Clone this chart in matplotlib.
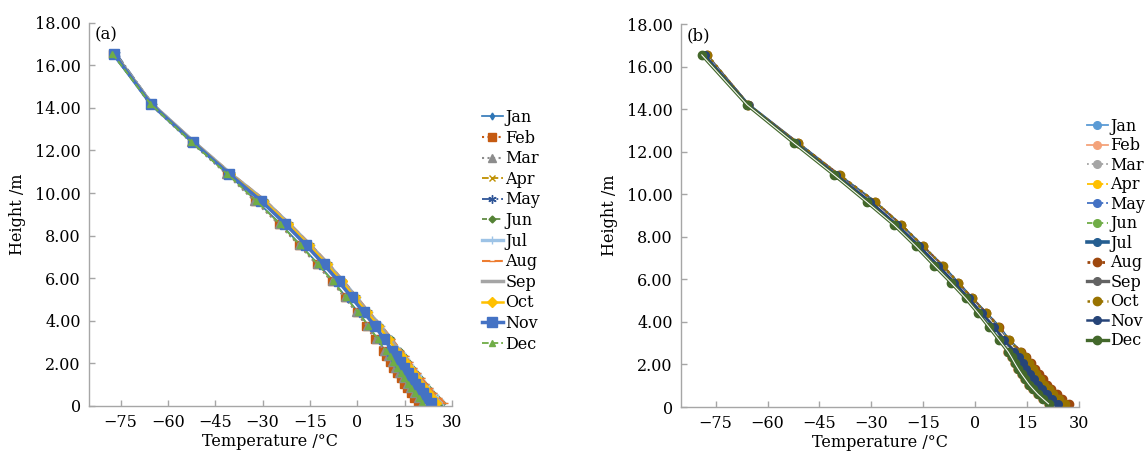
import numpy as np
import matplotlib
matplotlib.use("Agg")
import matplotlib.pyplot as plt

plt.rcParams['font.family'] = ['DejaVu Serif']
plt.rcParams['axes.unicode_minus'] = True

# pressure-level heights (km), top to bottom
heights = [16.55, 14.2, 12.4, 10.9, 9.65, 8.55, 7.55, 6.65, 5.85, 5.1, 4.4, 3.78,
           3.15, 2.6, 2.33, 2.07, 1.8, 1.55, 1.3, 1.05, 0.83, 0.6, 0.38, 0.15]

months = ['Jan', 'Feb', 'Mar', 'Apr', 'May', 'Jun',
          'Jul', 'Aug', 'Sep', 'Oct', 'Nov', 'Dec']

# monthly mean temperature profiles, site (a)
temp_a = {
    'Jan': [-77.8, -65.3, -52.3, -41.0, -32.1, -24.3, -17.9, -12.3, -7.5, -3.5, 0.3, 3.5, 6.3, 8.8, 10.0, 11.1, 12.3, 13.5, 14.6, 15.7, 16.8, 18.0, 19.1, 20.3],
    'Feb': [-77.5, -65.5, -52.5, -41.3, -32.5, -24.8, -18.4, -12.8, -8.0, -4.0, -0.2, 2.9, 5.5, 8.0, 9.1, 10.3, 11.4, 12.6, 13.7, 14.8, 15.9, 17.0, 18.0, 19.1],
    'Mar': [-77.2, -65.8, -52.8, -41.5, -32.7, -24.9, -18.4, -12.9, -8.1, -4.0, -0.3, 3.0, 5.9, 8.5, 9.7, 10.9, 12.1, 13.3, 14.4, 15.6, 16.7, 17.9, 19.2, 20.5],
    'Apr': [-76.6, -65.2, -52.0, -40.5, -30.8, -23.0, -16.4, -10.8, -6.0, -1.9, 1.9, 5.4, 8.5, 11.2, 12.5, 13.7, 14.9, 16.1, 17.3, 18.5, 19.6, 20.8, 22.1, 23.4],
    'May': [-76.3, -65.0, -51.8, -40.1, -29.5, -21.7, -15.0, -9.4, -4.7, -0.5, 3.3, 7.0, 10.2, 12.9, 14.2, 15.5, 16.8, 18.0, 19.2, 20.4, 21.5, 22.8, 24.1, 25.6],
    'Jun': [-76.8, -64.8, -51.6, -39.9, -29.4, -21.6, -14.9, -9.2, -4.5, -0.3, 3.5, 7.3, 10.6, 13.4, 14.8, 16.1, 17.4, 18.7, 19.9, 21.1, 22.3, 23.6, 25.1, 26.8],
    'Jul': [-77.3, -65.1, -51.7, -40.0, -29.3, -21.5, -14.8, -9.1, -4.4, -0.2, 3.6, 7.4, 10.7, 13.6, 15.0, 16.3, 17.6, 18.9, 20.1, 21.4, 22.6, 23.9, 25.5, 27.2],
    'Aug': [-77.1, -65.0, -51.6, -39.8, -29.1, -21.3, -14.6, -8.9, -4.2, 0.0, 3.8, 7.6, 11.0, 13.9, 15.3, 16.6, 17.9, 19.2, 20.5, 21.8, 23.0, 24.4, 26.0, 27.7],
    'Sep': [-76.9, -65.2, -51.8, -40.2, -29.5, -21.7, -15.0, -9.3, -4.6, -0.4, 3.4, 7.2, 10.5, 13.3, 14.6, 15.9, 17.2, 18.5, 19.7, 20.9, 22.1, 23.4, 24.9, 26.4],
    'Oct': [-77.0, -65.5, -52.0, -40.3, -29.8, -22.0, -15.3, -9.7, -5.0, -0.8, 3.0, 6.6, 9.8, 12.4, 13.7, 15.0, 16.3, 17.5, 18.7, 19.9, 21.0, 22.3, 23.6, 25.0],
    'Nov': [-77.2, -65.5, -52.2, -40.6, -30.6, -22.8, -16.2, -10.6, -5.9, -1.8, 2.0, 5.5, 8.5, 11.1, 12.3, 13.6, 14.8, 16.0, 17.2, 18.4, 19.5, 20.7, 21.9, 23.2],
    'Dec': [-77.6, -65.6, -52.6, -41.2, -32.2, -24.5, -18.1, -12.5, -7.7, -3.6, 0.2, 3.5, 6.4, 9.0, 10.2, 11.4, 12.6, 13.8, 14.9, 16.0, 17.1, 18.3, 19.4, 20.6],
}

# monthly mean temperature profiles, site (b)
temp_b = {
    'Jan': [-78.6, -65.9, -52.1, -40.3, -30.9, -22.9, -16.6, -11.3, -6.5, -2.2, 1.4, 4.4, 7.2, 9.9, 11.0, 12.0, 13.0, 14.0, 15.1, 16.2, 17.4, 18.7, 20.1, 21.6],
    'Feb': [-78.8, -65.8, -52.0, -40.4, -31.2, -23.2, -16.9, -11.6, -6.8, -2.5, 0.9, 3.9, 6.8, 9.3, 10.3, 11.2, 12.1, 13.1, 14.2, 15.3, 16.5, 17.8, 19.3, 20.9],
    'Mar': [-78.4, -65.7, -52.2, -40.6, -31.2, -22.8, -16.5, -11.2, -6.4, -2.1, 1.5, 4.6, 7.6, 10.4, 11.6, 12.6, 13.6, 14.6, 15.7, 16.8, 18.0, 19.3, 20.8, 22.4],
    'Apr': [-77.9, -65.6, -51.8, -40.0, -30.2, -22.4, -16.0, -10.6, -6.0, -1.7, 2.1, 5.5, 8.4, 11.4, 12.7, 13.9, 15.0, 16.0, 17.1, 18.3, 19.5, 20.9, 22.5, 24.2],
    'May': [-77.5, -65.4, -51.6, -39.8, -29.8, -22.1, -15.7, -10.2, -5.6, -1.4, 2.6, 6.0, 9.0, 12.2, 13.6, 14.9, 16.0, 17.1, 18.2, 19.4, 20.7, 22.1, 23.8, 25.6],
    'Jun': [-77.8, -65.5, -51.5, -39.7, -29.6, -21.9, -15.6, -10.0, -5.5, -1.3, 2.8, 6.3, 9.2, 12.5, 13.9, 15.2, 16.4, 17.5, 18.6, 19.8, 21.1, 22.6, 24.3, 26.1],
    'Jul': [-78.0, -65.6, -51.4, -39.6, -29.3, -21.6, -15.3, -9.7, -5.2, -1.0, 3.1, 6.7, 9.6, 13.0, 14.5, 15.8, 17.0, 18.1, 19.2, 20.4, 21.7, 23.2, 24.9, 26.7],
    'Aug': [-77.6, -65.6, -51.3, -39.3, -29.0, -21.4, -15.1, -9.5, -5.0, -0.9, 3.2, 6.9, 9.8, 13.2, 14.7, 16.0, 17.2, 18.3, 19.5, 20.7, 22.0, 23.5, 25.2, 27.0],
    'Sep': [-77.7, -65.7, -51.7, -39.9, -29.7, -22.0, -15.7, -10.1, -5.6, -1.4, 2.7, 6.2, 9.1, 12.4, 13.8, 15.1, 16.2, 17.3, 18.4, 19.6, 20.9, 22.3, 24.0, 25.9],
    'Oct': [-77.4, -65.5, -51.2, -39.2, -28.9, -21.3, -15.0, -9.4, -5.0, -0.8, 3.2, 6.7, 9.8, 12.9, 14.3, 15.6, 16.7, 17.7, 18.8, 20.0, 21.2, 22.6, 24.2, 25.9],
    'Nov': [-78.2, -65.6, -51.8, -40.1, -30.3, -22.5, -16.1, -10.7, -6.0, -1.8, 2.0, 5.3, 8.3, 11.3, 12.6, 13.7, 14.8, 15.8, 16.9, 18.1, 19.3, 20.7, 22.3, 23.9],
    'Dec': [-79.0, -65.9, -52.3, -40.7, -31.4, -23.4, -17.1, -11.8, -7.0, -2.7, 0.9, 3.9, 6.9, 9.5, 10.5, 11.4, 12.4, 13.4, 14.5, 15.6, 16.8, 18.1, 19.6, 21.2],
}

x_ticks = [-75, -60, -45, -30, -15, 0, 15, 30]
y_ticks = [0, 2, 4, 6, 8, 10, 12, 14, 16, 18]
y_ticklabels = ['0'] + ['%.2f' % v for v in y_ticks[1:]]

# (color, linestyle, marker, markersize, linewidth, double line)
styles_a = {
    'Jan': ('#2E75B6', '-', 'd', 3.5, 1.2, False),
    'Feb': ('#C55A11', ':', 's', 5.5, 1.5, False),
    'Mar': ('#8C8C8C', ':', '^', 5.5, 1.5, False),
    'Apr': ('#BF9000', '--', 'x', 5, 1.3, False),
    'May': ('#2F5597', '-.', (6, 2, 0), 6, 1.3, False),
    'Jun': ('#548235', (0, (3, 2, 1, 2)), 'D', 3.5, 1.2, False),
    'Jul': ('#9DC3E6', '-', '+', 6, 2.4, True),
    'Aug': ('#ED7D31', (0, (4, 2)), '_', 5, 1.5, False),
    'Sep': ('#A5A5A5', '-', None, 0, 2.5, False),
    'Oct': ('#FFC000', '-', 'D', 5.5, 1.8, False),
    'Nov': ('#4472C4', '-', 's', 7, 2.5, False),
    'Dec': ('#70AD47', '--', '^', 5, 1.3, False),
}

styles_b = {
    'Jan': ('#5B9BD5', '-', 'o', 5.5, 1.3, False),
    'Feb': ('#F4A37A', '-', 'o', 5.5, 1.3, False),
    'Mar': ('#A5A5A5', ':', 'o', 5.5, 1.3, False),
    'Apr': ('#FFC000', '--', 'o', 5.5, 1.3, False),
    'May': ('#4472C4', '-.', 'o', 5.5, 1.3, False),
    'Jun': ('#70AD47', (0, (3, 2, 1, 2, 1, 2)), 'o', 5.5, 1.3, False),
    'Jul': ('#255E91', '-', 'o', 5.5, 2.6, True),
    'Aug': ('#9E480E', ':', 'o', 6, 2.0, False),
    'Sep': ('#636363', '-', 'o', 5.5, 2.4, True),
    'Oct': ('#997300', ':', 'o', 6, 1.8, False),
    'Nov': ('#264478', '-', 'o', 5.5, 1.8, False),
    'Dec': ('#43682B', '-', 'o', 6, 2.4, True),
}

fig = plt.figure(figsize=(11.46, 4.53), dpi=100)
W, H = 1146, 453


def draw_panel(rect, temps, styles, tag, leg_xy, leg_space):
    ax = fig.add_axes(rect)
    handles = []
    for m in months:
        c, ls, mk, ms, lw, double = styles[m]
        line, = ax.plot(temps[m], heights, color=c, linestyle=ls, linewidth=lw,
                        marker=mk, markersize=ms, markeredgecolor=c,
                        markerfacecolor=c, markeredgewidth=1.0, label=m)
        handles.append(line)
        if double:
            # thin white core gives the two-tone line look
            ax.plot(temps[m], heights, color='white', linewidth=lw * 0.3)
    ax.set_xlim(-85, 30)
    ax.set_ylim(0, 18)
    ax.set_xticks(x_ticks)
    ax.set_yticks(y_ticks)
    ax.set_yticklabels(y_ticklabels)
    for s in ['top', 'right']:
        ax.spines[s].set_visible(False)
    for s in ['left', 'bottom']:
        ax.spines[s].set_color('#A6A6A6')
        ax.spines[s].set_linewidth(1.0)
    ax.tick_params(direction='in', length=4, width=1.0, color='#A6A6A6',
                   labelsize=11.5, pad=6)
    ax.set_xlabel('Temperature /°C', fontsize=11.5, labelpad=1.5)
    ax.set_ylabel('Height /m', fontsize=11.5, labelpad=6)
    ax.text(0.015, 0.99, tag, transform=ax.transAxes, fontsize=12,
            ha='left', va='top')
    fig.legend(handles=handles, loc='upper left',
               bbox_to_anchor=leg_xy, bbox_transform=fig.transFigure,
               frameon=False, fontsize=11.5, handlelength=1.3,
               handletextpad=0.15, labelspacing=leg_space, borderpad=0,
               borderaxespad=0)
    return ax


draw_panel([89 / W, 1 - 406 / H, (452 - 89) / W, (406 - 22.7) / H],
           temp_a, styles_a, '(a)', (482 / W, 1 - 109 / H), 0.225)
draw_panel([681 / W, 1 - 407 / H, (1079 - 681) / W, (407 - 24) / H],
           temp_b, styles_b, '(b)', (1087 / W, 1 - 118 / H), 0.155)

fig.savefig('out.png', dpi=100)
